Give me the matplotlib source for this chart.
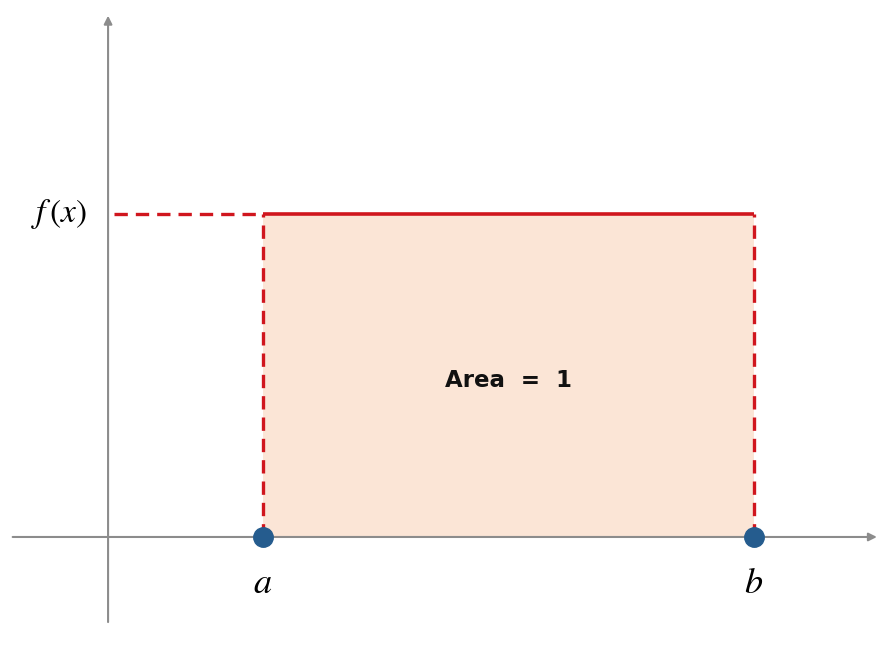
import numpy as np
import matplotlib.pyplot as plt

# uniform distribution on [a, b]
a = 1.0
b = 4.2
fx = 1.0 / (b - a)
area_label = "Area  =  1"
labels = ["$a$", "$b$"]

red = "#D0161E"
grey = "#8C8C8C"
fill_col = "#FBE5D6"
dot_col = "#255C8E"

plt.rcParams['mathtext.fontset'] = 'stix'

fig = plt.figure(figsize=(8.93, 6.45), dpi=100)
ax = fig.add_axes([0, 0, 1, 1])
ax.set_xlim(-0.7145, 5.107)
ax.set_ylim(-0.1045, 0.5195)
ax.axis('off')

# axes with arrows
ax.annotate("", xy=(5.02, 0), xytext=(-0.65, 0),
            arrowprops=dict(arrowstyle='-|>', color=grey, lw=1.5, mutation_scale=12))
ax.annotate("", xy=(-0.01, 0.507), xytext=(-0.01, -0.085),
            arrowprops=dict(arrowstyle='-|>', color=grey, lw=1.5, mutation_scale=12))

# pdf rectangle
dash = (0, (4, 2.4))
ax.fill_between([a, b], 0, fx, color=fill_col, lw=0, zorder=1)
ax.plot([a, b], [fx, fx], color=red, lw=2.6, solid_capstyle='butt', zorder=3)
ax.plot([a, a], [0, fx], color=red, lw=2.4, ls=dash, zorder=3)
ax.plot([b, b], [0, fx], color=red, lw=2.4, ls=dash, zorder=3)
ax.plot([0.03, a], [fx, fx], color=red, lw=2.4, ls=dash, zorder=3)

ax.plot([a, b], [0, 0], 'o', color=dot_col, ms=14, zorder=4)

ax.text(-0.33, fx, r"$f\,(x)$", fontsize=24, ha='center', va='center')
for xv, lab in zip([a, b], labels):
    ax.text(xv, -0.045, lab, fontsize=26, ha='center', va='center')

ax.text((a + b) / 2, fx / 2 - 0.005, area_label, fontsize=16.5, fontweight='bold',
        ha='center', va='center', color='#111111')

plt.savefig('out.png', dpi=100)
